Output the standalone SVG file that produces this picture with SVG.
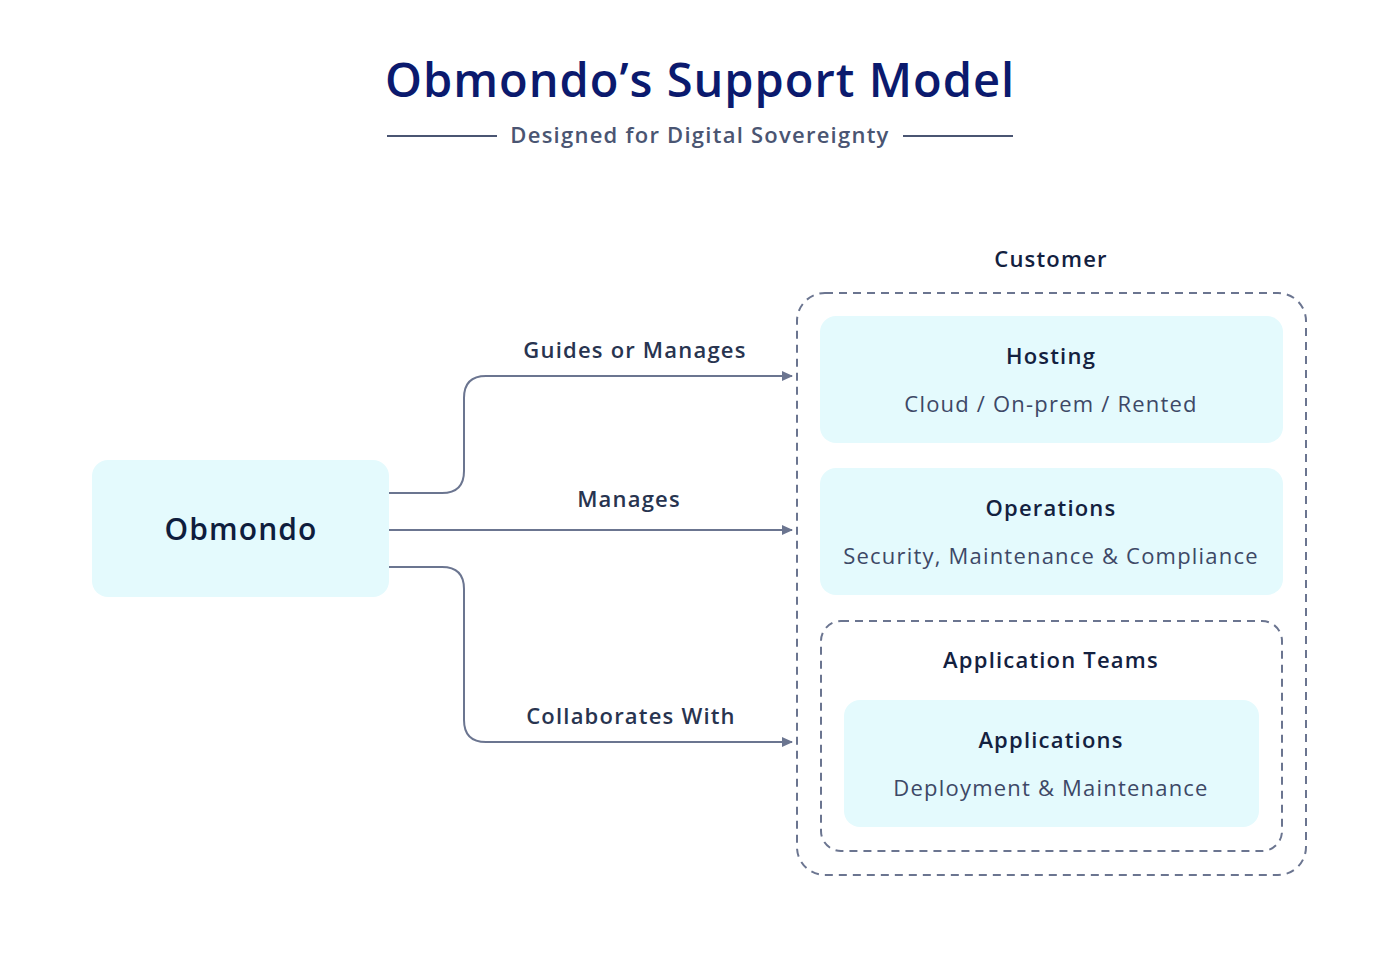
<svg xmlns="http://www.w3.org/2000/svg" width="1400" height="980" viewBox="0 0 1400 980">
<defs>
<marker id="arr" markerWidth="11" markerHeight="11" refX="10" refY="5.5" orient="auto" markerUnits="userSpaceOnUse">
<path d="M0,0.5 L11,5.5 L0,10.5 Z" fill="#6b7590"/>
</marker>
<style>
text{font-family:"Open Sans","Noto Sans","Liberation Sans",sans-serif;text-anchor:middle}
.title{font-size:47px;font-weight:600;fill:#0b1a6e;letter-spacing:1px}
.sub{font-size:22px;font-weight:600;fill:#4a5572;letter-spacing:1.25px}
.h{font-size:22px;font-weight:600;fill:#13213f;letter-spacing:1.2px}
.d{font-size:22px;font-weight:400;fill:#3d4866;letter-spacing:1.2px}
.lbl{font-size:22px;font-weight:600;fill:#283450;letter-spacing:1.2px}
.box{fill:#e4fafd}
.dash{fill:none;stroke:#6b7590;stroke-width:2;stroke-dasharray:8 6}
.conn{fill:none;stroke:#6b7590;stroke-width:2}
</style>
</defs>
<rect width="1400" height="980" fill="#ffffff"/>
<g id="header">
<text class="title" x="700" y="97">Obmondo’s Support Model</text>
<line x1="387" y1="136" x2="497" y2="136" stroke="#4a5572" stroke-width="2"/>
<line x1="903" y1="136" x2="1013" y2="136" stroke="#4a5572" stroke-width="2"/>
<text class="sub" x="700" y="143">Designed for Digital Sovereignty</text>
</g>
<g id="obmondo">
<rect class="box" x="92" y="460" width="297" height="137" rx="16"/>
<text x="241" y="540" style="font-size:30px;font-weight:600;fill:#0f1d3d;letter-spacing:1.1px">Obmondo</text>
</g>
<g id="customer">
<rect class="dash" x="797" y="293" width="509" height="582" rx="28"/>
<text class="h" x="1051" y="267">Customer</text>
</g>
<g id="hosting">
<rect class="box" x="820" y="316" width="463" height="127" rx="16"/>
<text class="h" x="1051" y="364">Hosting</text>
<text class="d" x="1051" y="412">Cloud / On-prem / Rented</text>
</g>
<g id="operations">
<rect class="box" x="820" y="468" width="463" height="127" rx="16"/>
<text class="h" x="1051" y="516">Operations</text>
<text class="d" x="1051" y="564">Security, Maintenance &amp; Compliance</text>
</g>
<g id="appteams">
<rect class="dash" x="821" y="621" width="461" height="230" rx="20"/>
<text class="h" x="1051" y="668">Application Teams</text>
</g>
<g id="applications">
<rect class="box" x="844" y="700" width="415" height="127" rx="16"/>
<text class="h" x="1051" y="748">Applications</text>
<text class="d" x="1051" y="796">Deployment &amp; Maintenance</text>
</g>
<g id="connectors">
<path class="conn" d="M389,493 H442 Q464,493 464,471 V398 Q464,376 486,376 H792" marker-end="url(#arr)"/>
<path class="conn" d="M389,530 H792" marker-end="url(#arr)"/>
<path class="conn" d="M389,567 H442 Q464,567 464,589 V720 Q464,742 486,742 H792" marker-end="url(#arr)"/>
<text class="lbl" x="635" y="358">Guides or Manages</text>
<text class="lbl" x="629" y="507">Manages</text>
<text class="lbl" x="631" y="724">Collaborates With</text>
</g>
</svg>
